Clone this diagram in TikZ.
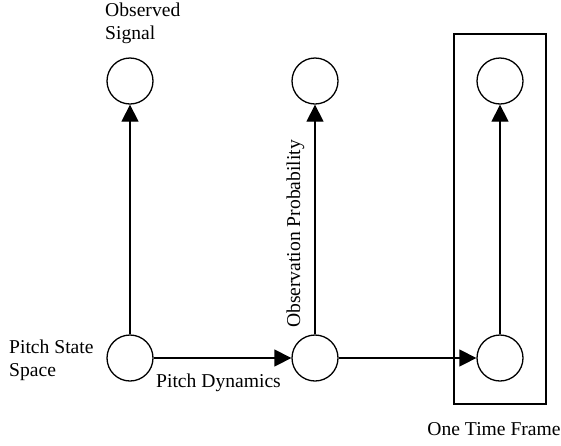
\documentclass[tikz,border=0pt]{standalone}
\usepackage{fontspec}
\setmainfont{Liberation Serif}
\usetikzlibrary{arrows.meta}
\begin{document}
\begin{tikzpicture}[x=1pt,y=-1pt,
  state/.style={draw,circle,line width=1.3pt,minimum size=46pt,inner sep=0pt},
  conn/.style={line width=1.3pt,-{Triangle[length=17pt,width=17pt]}},
  lbl/.style={font=\fontsize{19.6}{23}\selectfont,inner sep=0pt}]
\useasboundingbox (0,0) rectangle (561,445);
\node[state] (t1) at (130,81) {};
\node[state] (t2) at (315,81) {};
\node[state] (t3) at (500,81) {};
\node[state] (b1) at (130,358) {};
\node[state] (b2) at (315,358) {};
\node[state] (b3) at (500,358) {};
\draw[line width=1.3pt] (454,34) rectangle (546,404);
\draw[conn] (b1) -- (t1);
\draw[conn] (b2) -- (t2);
\draw[conn] (b3) -- (t3);
\draw[conn] (b1) -- (b2);
\draw[conn] (b2) -- (b3);
\node[lbl,anchor=base west,align=left] (obs) at (105,39) {Observed\\Signal};
\node[lbl,anchor=base west,align=left] (pss) at (9,376) {Pitch State\\Space};
\node[lbl,anchor=base] (pd) at (218.5,387) {Pitch Dynamics};
\node[lbl,anchor=base,rotate=90] (op) at (300,234) {Observation Probability};
\node[lbl,anchor=base] (otf) at (494,435) {One Time Frame};
\end{tikzpicture}
\end{document}
